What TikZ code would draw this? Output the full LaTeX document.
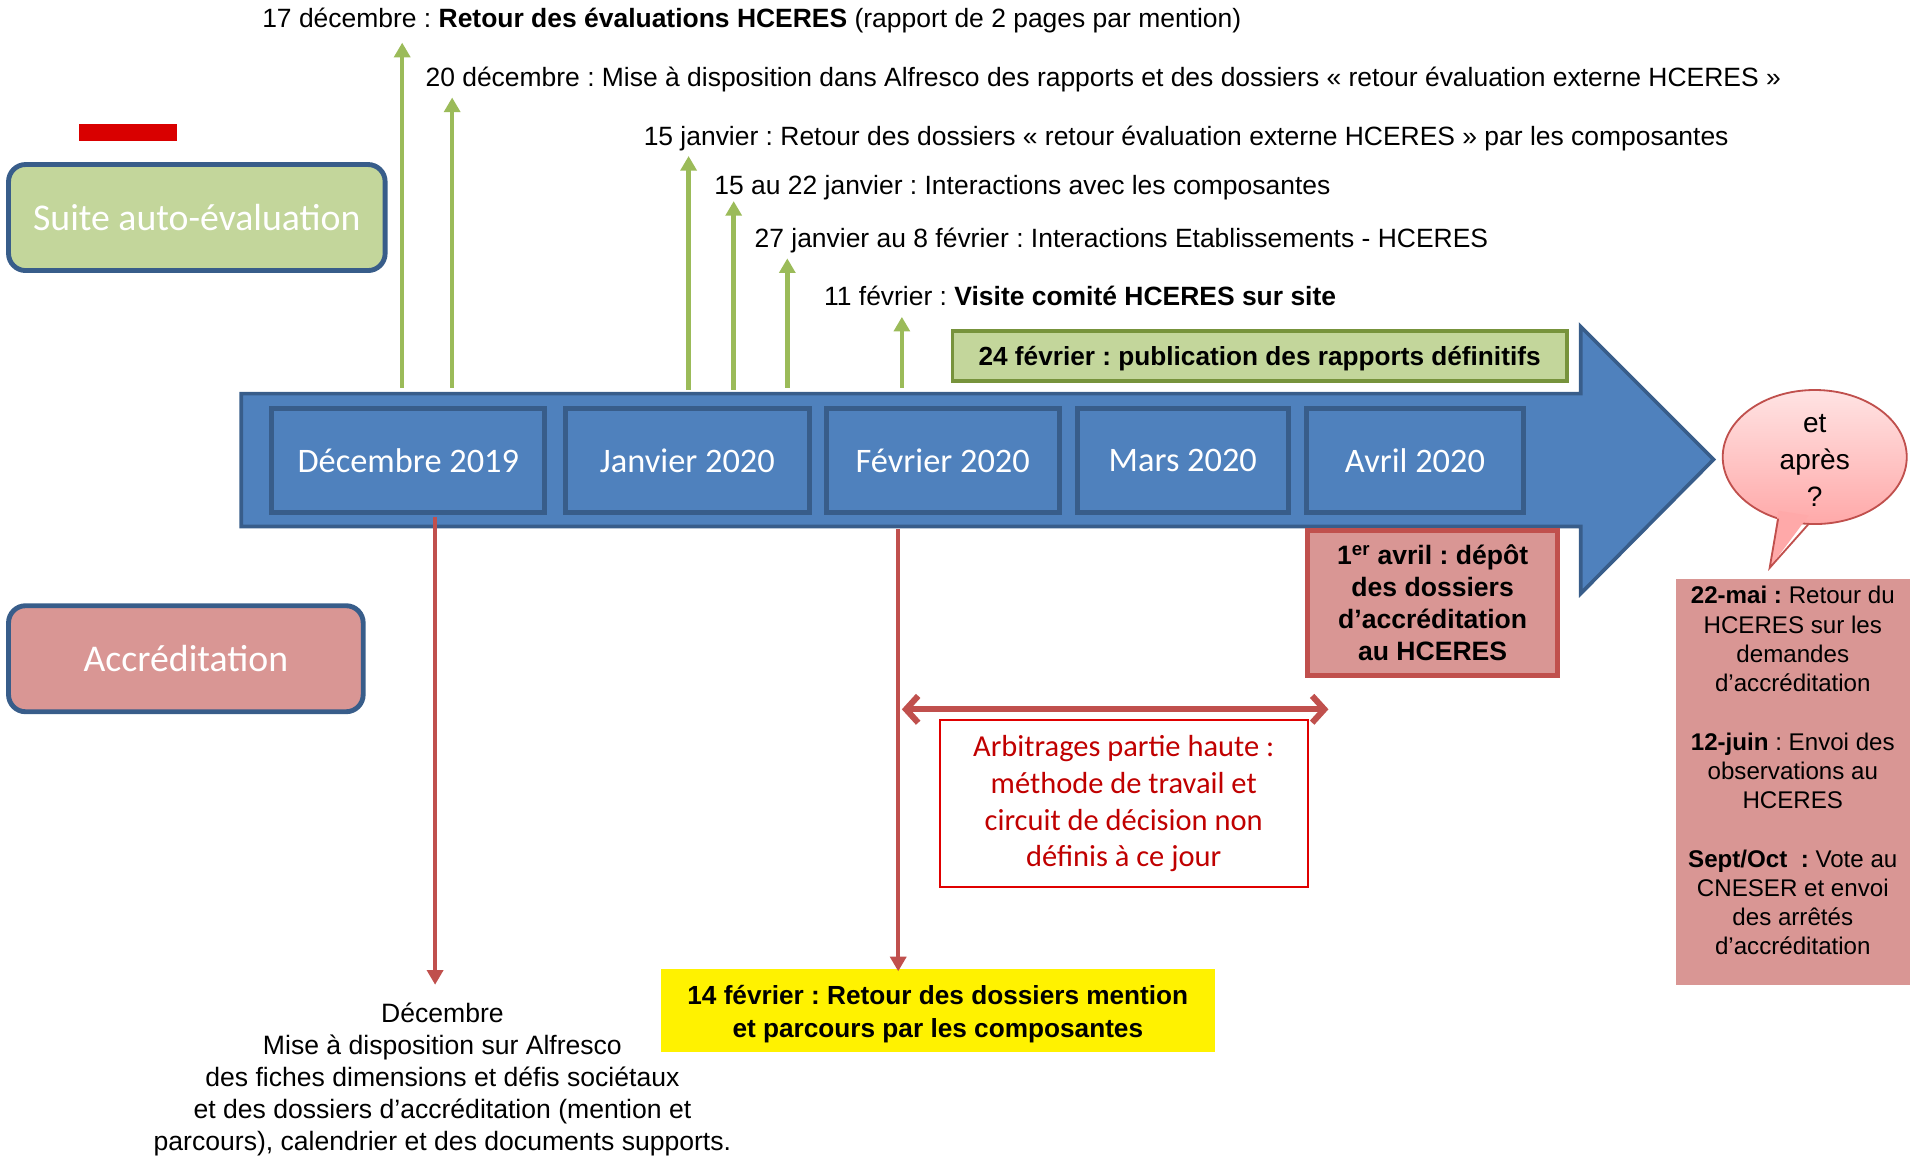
\documentclass[tikz,border=0pt]{standalone}
\usepackage{fontspec}
\setmainfont{Liberation Sans}
\newfontfamily\calibri{Carlito}
\usetikzlibrary{arrows.meta,shapes.geometric}
\frenchspacing
\definecolor{blueF}{HTML}{4F81BD}
\definecolor{blueD}{HTML}{385D8A}
\definecolor{greenF}{HTML}{C3D69B}
\definecolor{greenD}{HTML}{77933C}
\definecolor{greenA}{HTML}{9BBB59}
\definecolor{redA}{HTML}{C0504D}
\definecolor{pinkF}{HTML}{D99694}
\definecolor{redT}{HTML}{C00000}
\definecolor{redB}{HTML}{E00000}
\definecolor{bubTop}{HTML}{FFE3E3}
\definecolor{bubBot}{HTML}{FFA9A9}
\begin{document}
\begin{tikzpicture}[x=1pt,y=-1pt,
  month/.style={draw=blueD, line width=4pt, fill=blueF, text=white,
    font=\calibri\fontsize{28.2}{32}\selectfont, inner sep=0pt, minimum height=85pt},
  toptxt/.style={anchor=west, inner sep=0pt, font=\fontsize{21.7}{26}\selectfont},
  garrow/.style={draw=greenA, line width=3.7pt, -{Triangle[length=12pt,width=13pt]}},
  rarrow/.style={draw=redA, line width=3.3pt, -{Triangle[length=12pt,width=13pt]}},
  sidebox/.style={draw=blueD, line width=4pt, rounded corners=14pt, text=white,
    font=\calibri\fontsize{31}{36}\selectfont, inner sep=0pt, minimum height=87pt}
]
\useasboundingbox (0,0) rectangle (1568,949);

% red marker
\fill[red!85!black] (65,102) rectangle (145,116);

% side boxes
\node[sidebox, fill=greenF, minimum width=309pt] (suite) at (161.5,178.5) {Suite auto-évaluation};
\node[sidebox, fill=pinkF, minimum width=291pt] (accr) at (152.5,540.5) {Accréditation};

% big blue arrow
\filldraw[fill=blueF, draw=blueD, line width=3pt, line join=miter]
  (198,323) -- (1297,323) -- (1297,268) -- (1406,377) -- (1297,487) -- (1297,432) -- (198,432) -- cycle;

% month boxes
\node[month, minimum width=224pt] (dec) at (335,378) {Décembre 2019};
\node[month, minimum width=200pt] (jan) at (564,378) {Janvier 2020};
\node[month, minimum width=191pt] (fev) at (773.5,378) {Février 2020};
\node[month, minimum width=173pt] (mar) at (970.5,378) {Mars 2020};
\node[month, minimum width=178pt] (avr) at (1161,378) {Avril 2020};

% top texts
\node[toptxt] (t1) at (215,17) {17 décembre : \textbf{Retour des évaluations HCERES} (rapport de 2 pages par mention)};
\node[toptxt] (t2) at (349,65) {20 décembre : Mise à disposition dans Alfresco des rapports et des dossiers « retour évaluation externe HCERES »};
\node[toptxt] (t3) at (528,114) {15 janvier : Retour des dossiers « retour évaluation externe HCERES » par les composantes};
\node[toptxt] (t4) at (586,154) {15 au 22 janvier : Interactions avec les composantes};
\node[toptxt] (t5) at (619,197) {27 janvier au 8 février : Interactions Etablissements - HCERES};
\node[toptxt] (t6) at (676,243) {11 février : \textbf{Visite comité HCERES sur site}};

% green arrows
\coordinate (g1) at (330,35);  \coordinate (b1) at (330,318);
\coordinate (g2) at (371,80);  \coordinate (b2) at (371,318);
\coordinate (g3) at (565,128); \coordinate (b3) at (565,320);
\coordinate (g4) at (602,165); \coordinate (b4) at (602,320);
\coordinate (g5) at (646,212); \coordinate (b5) at (646,318);
\coordinate (g6) at (740,260); \coordinate (b6) at (740,318);
\foreach \i in {1,...,6} { \draw[garrow] (b\i) -- (g\i); }

% green publication box
\node[draw=greenD, line width=3pt, fill=greenF, minimum width=504pt, minimum height=41pt, inner sep=0pt] (pub) at (1033.5,292) {};
\node[inner sep=0pt, font=\bfseries\fontsize{21.5}{25}\selectfont] (pubtxt) at (1033.5,294.5) {24 février : publication des rapports définitifs};

% 1er avril box
\node[draw=redA, line width=4pt, fill=pinkF, minimum width=205pt, minimum height=119pt, inner sep=0pt,
  align=center, font=\bfseries\fontsize{21.8}{26.3}\selectfont] (depot) at (1175.5,494.5)
  {1\textsuperscript{er} avril : dépôt\\des dossiers\\d’accréditation\\au HCERES};

% speech bubble
\node[ellipse, draw=redA, line width=1.5pt, top color=bubTop, bottom color=bubBot,
  minimum width=151pt, minimum height=110pt, inner sep=0pt] (bub) at (1489,375) {};
\fill[bubBot] (1459,419) -- (1452,466) -- (1484,423) -- cycle;
\draw[redA, line width=1.5pt, line join=miter] (1459,425.5) -- (1452,466) -- (1484,429.9);
\node[align=center, inner sep=0pt, font=\fontsize{23}{30.5}\selectfont] (bubtxt) at (1489,378) {et\\après\\?};

% right pink box
\node[fill=pinkF, minimum width=192pt, minimum height=333pt, inner sep=0pt] (suitebox) at (1471,641.5) {};
\node[inner sep=0pt, align=center, font=\fontsize{19.8}{24}\selectfont] (suitetxt) at (1471,632.5)
  {\textbf{22-mai :} Retour du\\HCERES sur les\\demandes\\d’accréditation\\[24pt]
   \textbf{12-juin} : Envoi des\\observations au\\HCERES\\[24pt]
   \textbf{Sept/Oct~ :} Vote au\\CNESER et envoi\\des arrêtés\\d’accréditation};

% arbitrages box
\node[draw=redB, line width=1.5pt, minimum width=302pt, minimum height=137pt, inner sep=0pt, align=center,
  text=redT, font=\calibri\fontsize{25}{30}\selectfont] (arb) at (922,659.5)
  {Arbitrages partie haute :\\méthode de travail et\\circuit de décision non\\définis à ce jour};

% double arrow
\coordinate (da1) at (740,582); \coordinate (da2) at (1090,582);
\draw[redA, line width=5pt, {Straight Barb[length=10pt,width=22pt]}-{Straight Barb[length=10pt,width=22pt]}] (da1) -- (da2);

% yellow box
\node[fill=yellow, minimum width=455pt, minimum height=68pt, inner sep=0pt] (yel) at (769.5,829) {};
\node[inner sep=0pt, align=center, font=\bfseries\fontsize{21.5}{27}\selectfont] (yeltxt) at (769.5,832)
  {14 février : Retour des dossiers mention\\et parcours par les composantes};

% bottom text
\node[inner sep=0pt, align=center, font=\fontsize{21.8}{26.3}\selectfont] (dectxt) at (363,886)
  {Décembre\\Mise à disposition sur Alfresco\\des fiches dimensions et défis sociétaux\\et des dossiers d’accréditation (mention et\\parcours), calendrier et des documents supports.};

% red down arrows
\coordinate (r1s) at (357,424); \coordinate (r1e) at (357,808);
\coordinate (r2s) at (737,434); \coordinate (r2e) at (737,797);
\draw[rarrow] (r1s) -- (r1e);
\draw[rarrow] (r2s) -- (r2e);
\end{tikzpicture}
\end{document}
